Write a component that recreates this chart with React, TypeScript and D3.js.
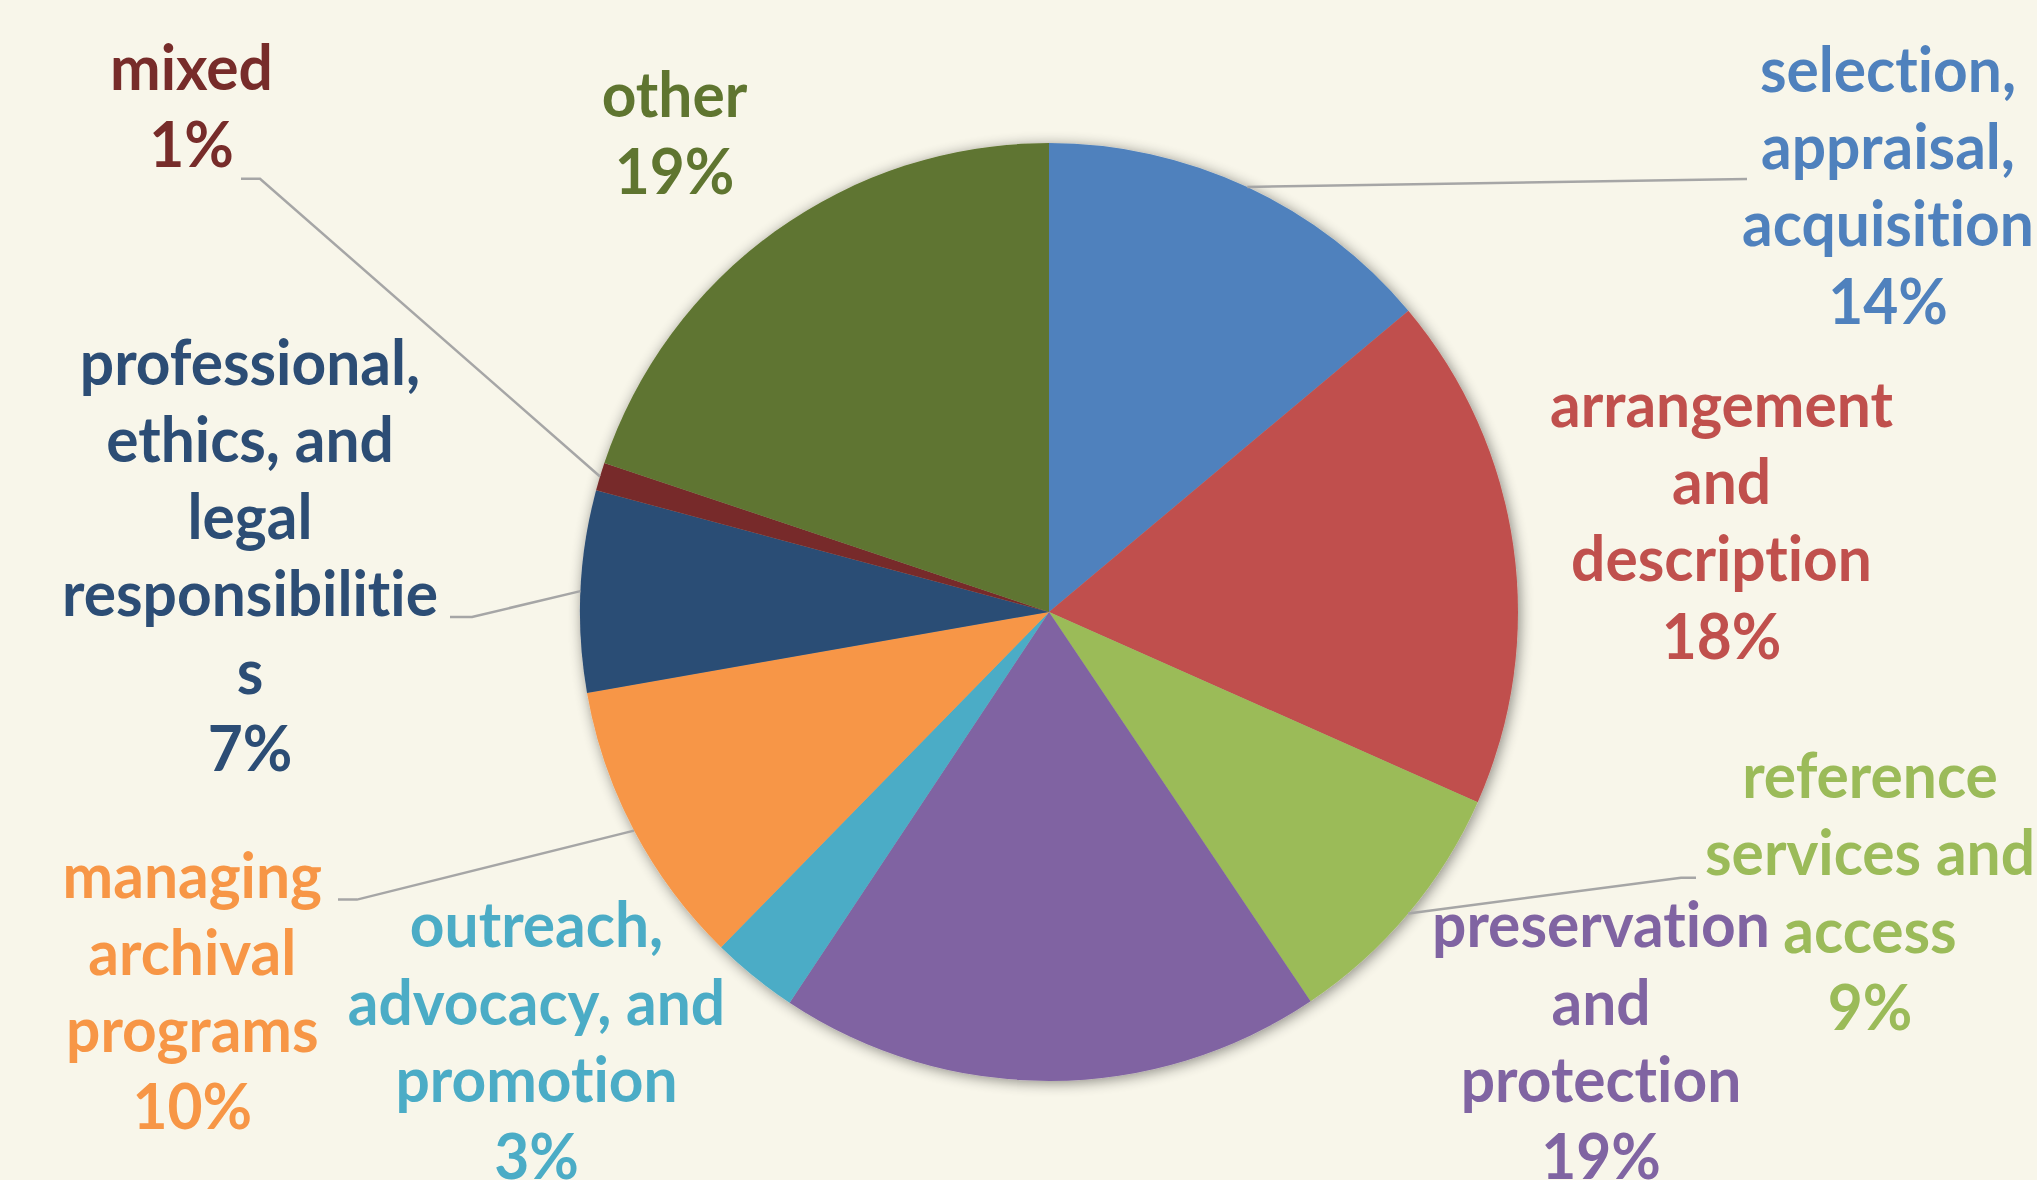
import React from "react";
import * as d3 from "d3";

// ---- data ----
const categories = [
  "selection, appraisal, acquisition",
  "arrangement and description",
  "reference services and access",
  "preservation and protection",
  "outreach, advocacy, and promotion",
  "managing archival programs",
  "professional, ethics, and legal responsibilities",
  "mixed",
  "other",
];
const shares = [13.9, 17.76, 8.94, 18.75, 3.0, 9.92, 6.94, 0.97, 19.86];
const percentLabels = ["14%", "18%", "9%", "19%", "3%", "10%", "7%", "1%", "19%"];
const labelLines = [
  ["selection,", "appraisal,", "acquisition"],
  ["arrangement", "and", "description"],
  ["reference", "services and", "access"],
  ["preservation", "and", "protection"],
  ["outreach,", "advocacy, and", "promotion"],
  ["managing", "archival", "programs"],
  ["professional,", "ethics, and", "legal", "responsibilitie", "s"],
  ["mixed"],
  ["other"],
];
const colors = ["#4F81BD", "#C0504D", "#9BBB59", "#8064A2", "#4BACC6", "#F79646", "#2C4D75", "#772C2A", "#5F7530"];

// ---- layout (label anchors and leader line bends) ----
const W = 2037, H = 1180;
const CX = 1049, CY = 612, R = 469;
const LINE_H = 77.3;
const FONT_SIZE = 64;
const X_SCALE = 0.945;
const labelPos: [number, number][] = [
  [1888, 91.8],
  [1721.5, 426.7],
  [1870, 798],
  [1601, 947.4],
  [536.5, 947.4],
  [192.3, 897.6],
  [250, 384.6],
  [191.5, 90],
  [674.5, 116.7],
];
const leaders: ([number, number][] | null)[] = [
  [[1747, 179]],
  null,
  [[1681, 877.7], [1696, 877.7]],
  null,
  null,
  [[357, 899.6], [338, 899.6]],
  [[472, 617], [450, 617]],
  [[260, 178.7], [241, 178.7]],
  null,
];

export default function App() {
  const pie = d3.pie<number>().sort(null).value((d) => d)(shares);
  const arc = d3.arc<d3.PieArcDatum<number>>().innerRadius(0).outerRadius(R);
  const line = d3.line();

  return (
    <svg
      width={W}
      height={H}
      style={{ position: "fixed", left: 0, top: 0, background: "#F8F6EA" }}
      fontFamily="Lato, 'Open Sans', sans-serif"
    >
      <defs>
        <filter id="shadow" x="-20%" y="-20%" width="140%" height="140%">
          <feGaussianBlur in="SourceAlpha" stdDeviation="7" />
          <feOffset dx="2" dy="2" result="b" />
          <feComponentTransfer>
            <feFuncA type="linear" slope="0.45" />
          </feComponentTransfer>
          <feMerge>
            <feMergeNode />
            <feMergeNode in="SourceGraphic" />
          </feMerge>
        </filter>
      </defs>
      <rect width={W} height={H} fill="#F8F6EA" />
      <g transform={`translate(${CX},${CY})`} filter="url(#shadow)">
        {pie.map((p, i) => (
          <path key={categories[i]} d={arc(p) || ""} fill={colors[i]} />
        ))}
      </g>
      {pie.map((p, i) => {
        const pts = leaders[i];
        if (!pts) return null;
        const mid = (p.startAngle + p.endAngle) / 2;
        const start: [number, number] = [CX + R * Math.sin(mid), CY - R * Math.cos(mid)];
        return (
          <path
            key={"l" + i}
            d={line([start, ...pts]) || ""}
            fill="none"
            stroke="#A6A6A6"
            strokeWidth={2.5}
          />
        );
      })}
      {labelLines.map((lines, i) => {
        const [x, y] = labelPos[i];
        const all = [...lines, percentLabels[i]];
        return (
          <g key={"t" + i} transform={`translate(${x},${y}) scale(${X_SCALE},1)`}>
            <text
              textAnchor="middle"
              fontSize={FONT_SIZE}
              fontWeight="bold"
              fill={colors[i]}
              style={{ fontVariantLigatures: "none" }}
            >
              {all.map((s, j) => (
                <tspan key={j} x={0} y={j * LINE_H}>
                  {s}
                </tspan>
              ))}
            </text>
          </g>
        );
      })}
    </svg>
  );
}
